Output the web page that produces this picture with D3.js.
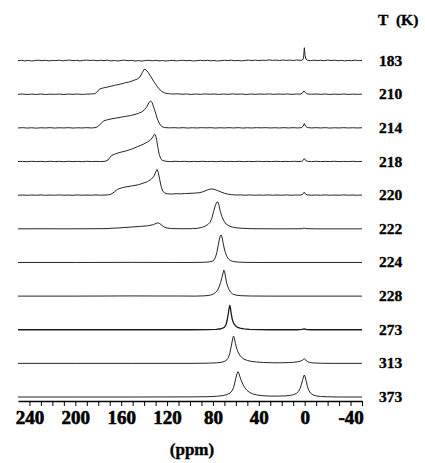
<!DOCTYPE html>
<html>
<head>
<meta charset="utf-8">
<script src="https://cdn.jsdelivr.net/npm/d3@7"></script>
<style>
  html, body { margin: 0; padding: 0; background: #fff; }
  svg { display: block; }
  svg text { font-family: "Liberation Serif", "Times New Roman", serif !important; font-weight: bold; fill: #000; stroke: #000; stroke-width: 0.35px; }
  svg .tick text { stroke-width: 0.6px; }
</style>
</head>
<body>
<svg id="chart" width="425" height="463"></svg>
<script>
// ---- data (ppm, intensity) ----
const temperatures = ["183", "210", "214", "218", "220", "222", "224", "228", "273", "313", "373"];

const spec183 = [[250,0],[247,0.4],[244,-0.2],[241,0.3],[238,-0.3],[235,0.2],[232,0.5],[229,0],[226,0.4],[223,-0.2],[220,0.3],[217,0.1],[214,0.5],[211,-0.1],[208,0.3],[205,0.6],[202,0.1],[199,0.4],[196,-0.2],[193,0.3],[190,0.6],[187,0.2],[184,0.5],[181,0],[178,0.4],[175,0.1],[172,0.5],[169,-0.2],[166,0.2],[163,-0.3],[160,0.3],[157,0.5],[154,0],[151,0.4],[148,-0.3],[145,0.1],[142,-0.4],[139,0.2],[136,0.4],[133,-0.1],[130,0.3],[127,-0.2],[124,0.2],[121,-0.3],[118,0.1],[115,0.3],[112,-0.2],[109,0.2],[106,0.4],[103,0],[100,0.3],[97,-0.3],[94,0.1],[91,0.4],[88,0],[85,0.4],[82,-0.1],[79,0.2],[76,-0.3],[73,0.1],[70,0.4],[67,0.1],[64,0.5],[61,0],[58,0.3],[55,-0.2],[52,0.3],[49,0.6],[46,0.2],[43,0.5],[40,0.1],[37,0.5],[34,0.3],[31,0.8],[28,0.3],[25,0.6],[22,0.2],[19,0.7],[16,0.3],[13,0.6],[10,0.2],[7,0.7],[4,0.4],[2,0.6],[1,2.5],[0.3,13],[-0.4,5],[-1.1,1.5],[-2.5,0.4],[-5,0.1],[-8,0.5],[-11,0.1],[-14,0.4],[-17,0],[-20,0.6],[-23,0.2],[-26,0.5],[-29,0],[-32,0.4],[-35,-0.2],[-38,0.3],[-41,0],[-44,0.5],[-47,0.1],[-50,0.2]];

const spec210 = [[250,0],[246,0.3],[242,-0.2],[238,0.2],[234,-0.1],[230,0.3],[226,-0.2],[222,0.2],[218,0],[214,0.3],[210,-0.2],[206,0.3],[202,0],[198,0.3],[194,-0.1],[190,0.2],[186,0.4],[183,0.6],[181.5,1.8],[179,5.2],[176,6.3],[173,7],[169,8.1],[165,9.2],[161,10.1],[157,11.4],[153,12.4],[149,14],[146,15.2],[143.5,17.5],[141.5,22],[140,25],[138.5,24.6],[136.5,22],[134,17.5],[131.7,13],[129,8.5],[127,5.5],[124.5,2.8],[122,1.3],[119,0.7],[115,0.3],[111,0.5],[107,0.1],[103,0.4],[99,-0.1],[95,0.3],[91,0],[87,0.4],[83,0.1],[79,0.3],[75,-0.1],[71,0.3],[67,0],[63,0.4],[59,0.1],[55,0.3],[51,-0.1],[47,0.3],[43,0],[39,0.3],[35,0.1],[31,0.4],[27,0],[23,0.3],[19,0.1],[15,0.3],[11,0],[7,0.3],[4,0.2],[2.3,1],[0.6,3.4],[-0.8,1.5],[-2.5,0.4],[-6,0.1],[-10,0.3],[-14,0],[-18,0.3],[-22,-0.1],[-26,0.2],[-30,0],[-34,0.3],[-38,-0.1],[-42,0.2],[-46,0],[-50,0.2]];

const spec214 = [[250,0],[246,0.3],[242,-0.1],[238,0.2],[234,-0.2],[230,0.2],[226,0],[222,0.3],[218,-0.1],[214,0.2],[210,0],[206,0.3],[202,-0.1],[198,0.2],[194,0],[190,0.3],[186,0],[183,0.3],[181,0.9],[178,4],[175,7.3],[172,8.2],[168,9.2],[164,10],[160,10.8],[156,11.6],[152,12.4],[148,13.5],[145,14.6],[142,16],[139.5,18.5],[137.5,21.5],[136,25],[134.5,27],[133,25.5],[131.5,20],[130,15],[128.5,9],[126.5,4],[124.5,1.3],[122,0.4],[118,0.1],[114,0.3],[110,0],[106,0.3],[102,-0.1],[98,0.2],[94,0],[90,0.3],[86,0.1],[82,0.3],[78,-0.1],[74,0.2],[70,0],[66,0.3],[62,0],[58,0.3],[54,-0.1],[50,0.2],[46,0],[42,0.3],[38,0.1],[34,0.3],[30,0],[26,0.2],[22,0],[18,0.3],[14,0],[10,0.3],[6,0],[3,0.3],[1.3,1.8],[0.3,4.4],[-0.8,1.8],[-2.5,0.4],[-6,0],[-10,0.3],[-14,0],[-18,0.3],[-22,-0.1],[-26,0.2],[-30,0],[-34,0.3],[-38,0],[-42,0.2],[-46,0],[-50,0.2]];

const spec218 = [[250,0],[246,0.2],[242,-0.1],[238,0.3],[234,0],[230,0.2],[226,-0.1],[222,0.3],[218,0],[214,0.2],[210,-0.1],[206,0.3],[202,0],[198,0.2],[194,-0.1],[190,0.3],[186,0],[182,0.2],[178,0],[174,0.3],[171.5,1.6],[168.5,6],[165,7.8],[161,9.2],[156,10.6],[151,12.4],[146,14.8],[141,17.2],[137,19.6],[134.5,21.5],[132.5,24.5],[131,27.4],[130,26.5],[129,21],[128,14],[126.8,7],[125.5,3],[124,1.1],[121,0.3],[117,0],[113,0.3],[109,0],[105,0.3],[101,-0.1],[97,0.2],[93,0],[89,0.3],[85,0],[81,0.2],[77,-0.1],[73,0.3],[69,0],[65,0.2],[61,0],[57,0.3],[53,-0.1],[49,0.2],[45,0],[41,0.3],[37,0],[33,0.2],[29,0],[25,0.3],[21,0],[17,0.2],[13,0],[9,0.3],[5,0],[2.5,0.3],[1.3,1.3],[0.3,3],[-0.8,1.2],[-2.5,0.3],[-6,0],[-10,0.3],[-14,0],[-18,0.2],[-22,0],[-26,0.3],[-30,0],[-34,0.2],[-38,0],[-42,0.3],[-46,0],[-50,0.2]];

const spec220 = [[250,0],[246,0.2],[242,-0.1],[238,0.2],[234,0],[230,0.3],[226,-0.1],[222,0.2],[218,0],[214,0.3],[210,0],[206,0.2],[202,-0.1],[198,0.3],[194,0],[190,0.2],[186,0],[182,0.3],[178,0],[174,0.2],[171,0.4],[169,0.9],[166,3.3],[163,6],[159,7.6],[155,8.5],[150,9.4],[145,10.5],[141,12],[137,13.6],[134,15.8],[131.5,19],[129.8,23.5],[128.7,25.7],[127.7,23],[126.5,16],[125.2,9],[123.8,4.2],[122,2.1],[120,1.4],[116,1.2],[112,1.5],[108,1.4],[104,1.7],[100,1.9],[96,2.1],[92,2.5],[89,3.3],[86,4.7],[83.5,5.8],[81.5,6.3],[79,5.9],[76,4.6],[73,3.3],[70,2],[67,1.1],[64,0.6],[60,0.2],[56,0.3],[52,0],[48,0.3],[44,0],[40,0.2],[36,0],[32,0.3],[28,0],[24,0.2],[20,0],[16,0.3],[12,0],[8,0.2],[4,0.1],[2,0.6],[0.4,3],[-0.8,1.1],[-2.5,0.3],[-6,0],[-10,0.2],[-14,0],[-18,0.3],[-22,0],[-26,0.2],[-30,0],[-34,0.3],[-38,0],[-42,0.2],[-46,0],[-50,0.2]];

const spec222 = [[250,0],[230,0.1],[210,0],[190,0.1],[175,0.2],[164,0.8],[154,1.6],[144,2.4],[137,3],[132,4.2],[129.5,5.5],[127.8,6],[126.3,5.2],[124.5,3.5],[122.5,1.8],[120,0.8],[116,0.3],[108,0.1],[98,0.2],[94,0.5],[90,1.3],[87,2.6],[84.5,4.2],[82.5,6.5],[81,10.5],[79.5,17],[78,23],[76.8,26.5],[75.8,27],[74.8,24],[73.6,17.5],[72.2,12.5],[70.5,8],[68.5,4.8],[66,3],[63,1.8],[59,1],[54,0.5],[47,0.2],[40,0.1],[20,0],[5,0.1],[2,0.2],[0.5,0.8],[-1,0.2],[-10,0],[-50,0]];

const spec224 = [[250,0],[200,0],[150,0.1],[100,0],[88,0.2],[83,0.6],[80.5,1.3],[79,2.6],[77.7,5.5],[76.6,10],[75.5,16.5],[74.5,22.5],[73.7,26.3],[72.9,27.5],[72.1,25.5],[71.2,20],[70.2,14.5],[69.2,10],[68,6.3],[66.5,3.5],[64.5,1.8],[62,0.9],[58,0.4],[52,0.1],[40,0],[-50,0]];

const spec228 = [[250,0],[200,0],[170,0.1],[150,0.2],[130,0.1],[110,0.1],[95,0],[87,0.3],[82,1],[79.5,2.2],[77.7,3.6],[76,5.8],[74.5,9.5],[73.3,13.6],[72.2,18.5],[71.2,23],[70.5,26],[69.8,24.5],[69,19],[68.2,14],[67.3,10.3],[66,6.6],[64.5,3.8],[63,2.2],[60,1],[55,0.4],[47,0.1],[30,0],[-50,0]];

const spec273 = [[250,0],[200,0],[150,0],[100,0],[85,0.1],[77,0.4],[73,1],[71,1.8],[69.8,2.8],[68.6,5],[67.6,9.5],[66.7,15.5],[65.9,21.5],[65.3,24.3],[64.7,21.5],[64,15.5],[63.1,10.2],[62,6.6],[60.6,4.3],[58.9,2.7],[56.5,1.6],[53,0.9],[48,0.4],[40,0.1],[30,0],[6,0],[2.5,0.3],[0.3,0.8],[-2,0.2],[-6,0],[-50,0]];

const spec313 = [[250,0],[200,0],[150,0],[100,0],[84,0.2],[77,0.5],[72,1.2],[69.5,2.2],[67.8,3.6],[66.4,6],[65.3,10],[64.3,15.5],[63.3,21.5],[62.5,26],[62,27.3],[61.3,25],[60.4,20],[59.4,15.2],[58.2,11.5],[56.7,8.3],[55,6],[52.9,4.2],[50,2.9],[46.5,2],[42,1.4],[36,0.9],[28,0.6],[20,0.6],[14,0.8],[9.5,1.1],[6.5,1.5],[4,2.1],[2,3.1],[0.4,4.7],[-1.2,3],[-2.8,1.6],[-4.5,0.9],[-8,0.4],[-15,0.1],[-25,0],[-50,0]];

const spec373 = [[250,0],[200,0],[150,0],[100,0.1],[85,0.3],[77,0.7],[72,1.3],[68,2.4],[65,4],[63.3,6.2],[62,9.5],[61,14],[60,19],[59,23.2],[58.2,25.3],[57.4,23.8],[56.4,20],[55.2,16.2],[53.8,12.5],[52.2,9.3],[50.4,6.7],[48.2,4.7],[45.5,3.2],[42,2.1],[37,1.3],[30,0.9],[23,0.9],[17,1.1],[12.5,1.6],[9.5,2.4],[7.2,3.6],[5.5,5.5],[4,8.5],[2.8,12.8],[1.7,17.5],[0.8,21],[0.3,22],[-0.5,20],[-1.4,15.5],[-2.4,10.5],[-3.6,6.5],[-5.2,3.8],[-7.3,2.1],[-10,1.1],[-14,0.5],[-20,0.2],[-30,0],[-50,0]];

const spectra = [spec183, spec210, spec214, spec218, spec220, spec222, spec224, spec228, spec273, spec313, spec373];

const axisTicks = [240, 230, 220, 210, 200, 190, 180, 170, 160, 150, 140, 130, 120, 110, 100, 90, 80, 70, 60, 50, 40, 30, 20, 10, 0, -10, -20, -30, -40, -50];
const axisLabels = [240, 200, 160, 120, 80, 40, 0, -40];
const xDomain = [250, -50];
const intensityDomain = [0, 30];

// ---- drawing ----
const svg = d3.select("#chart");

const x = d3.scaleLinear().domain(xDomain).range([18, 362]);
const row = d3.scalePoint().domain(temperatures).range([60.7, 397]);
const h = d3.scaleLinear().domain(intensityDomain).range([0, 30]);

const line = d3.line()
  .x(d => x(d[0]))
  .curve(d3.curveLinear);

temperatures.forEach((t, i) => {
  const base = row(t);
  svg.append("path")
    .datum(spectra[i])
    .attr("fill", "none")
    .attr("stroke", "#1a1a1a")
    .attr("stroke-width", t === "273" ? 1.3 : 0.95)
    .attr("stroke-linejoin", "round")
    .attr("d", line.y(d => base - h(d[1])));

  svg.append("text")
    .attr("x", 379)
    .attr("y", base + 5)
    .attr("font-size", 15.5)
    .text(t);
});

svg.append("text")
  .attr("x", 378)
  .attr("y", 25)
  .attr("font-size", 15.5)
  .attr("word-spacing", 4)
  .text("T (K)");

const axis = d3.axisBottom(x)
  .tickValues(axisTicks)
  .tickSize(5)
  .tickSizeOuter(0)
  .tickFormat(d => axisLabels.includes(d) ? String(d) : "");

const gAxis = svg.append("g")
  .attr("transform", "translate(0,401)")
  .call(axis);

gAxis.attr("font-family", null);
gAxis.select(".domain").attr("stroke", "#000").attr("stroke-width", 1.5);
gAxis.selectAll(".tick line").attr("stroke", "#000").attr("stroke-width", 1);
gAxis.selectAll(".tick text")
  .attr("y", 10)
  .attr("font-size", 19)
  .attr("fill", "#000");

svg.append("text")
  .attr("x", 192)
  .attr("y", 455)
  .attr("text-anchor", "middle")
  .attr("font-size", 17)
  .text("(ppm)");
</script>
</body>
</html>
